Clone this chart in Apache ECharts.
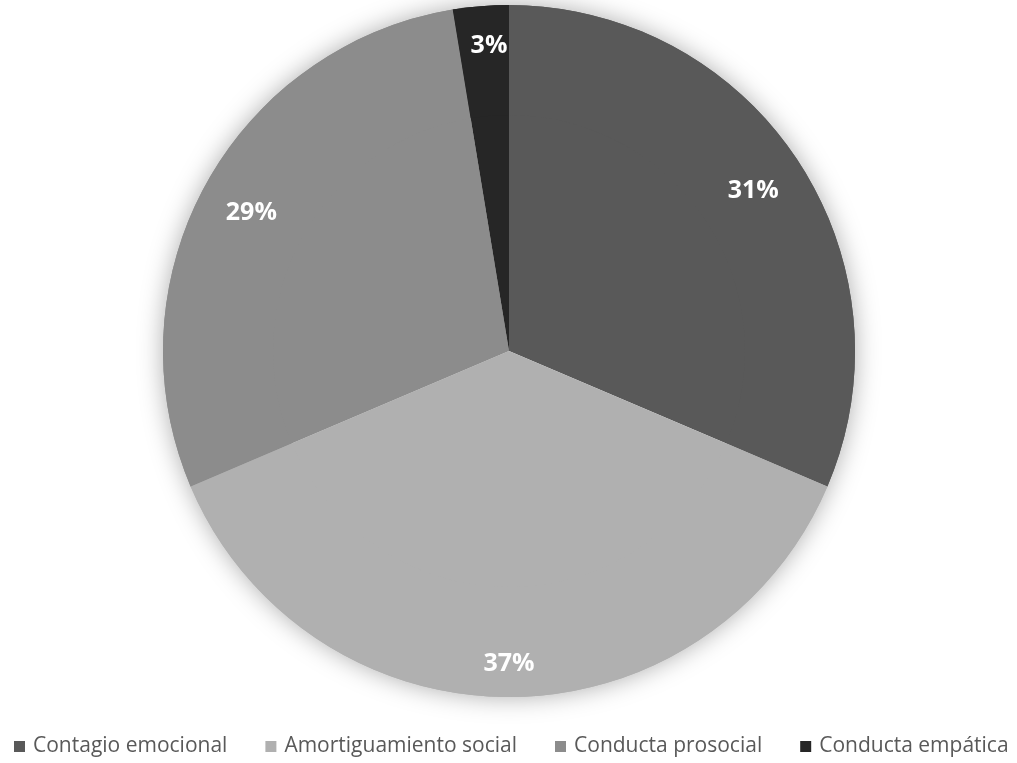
<!DOCTYPE html>
<html><head><meta charset="utf-8">
<style>html,body{margin:0;padding:0;background:#fff}#c{width:1017px;height:763px}</style>
<script src="https://cdn.jsdelivr.net/npm/echarts@6/dist/echarts.min.js"></script>
</head><body><div id="c"></div>
<script>
const categories = ['Contagio emocional', 'Amortiguamiento social', 'Conducta prosocial', 'Conducta empática'];
const values = [31.4, 37.2, 28.8, 2.6];
const colors = ['#595959', '#b0b0b0', '#8c8c8c', '#262626'];
const labelNudge = [[-1, 2], [0, 19], [0, 4], [4, -12]];

const data = categories.map((n, i) => ({ name: n, value: values[i], itemStyle: { color: colors[i] } }));
const ringData = categories.map((n, i) => ({
  name: n, value: values[i], itemStyle: { color: colors[i] },
  label: { offset: labelNudge[i] }
}));
const total = values.reduce((a, b) => a + b, 0);
const chart = echarts.init(document.getElementById('c'));
chart.setOption({
  backgroundColor: '#fff',
  animation: false,
  legend: {
    top: 736, left: 14, right: -40, padding: 0,
    itemWidth: 11, itemHeight: 11, itemGap: 38,
    icon: 'rect',
    textStyle: { fontFamily: 'Open Sans', fontSize: 21, color: '#595959', padding: [0, 0, 0, 3] },
    data: categories
  },
  series: [
    {
      type: 'pie', center: [509, 351], radius: [0, 345], silent: true,
      label: { show: false }, labelLine: { show: false }, legendHoverLink: false,
      itemStyle: { color: '#ffffff', shadowBlur: 26, shadowColor: 'rgba(0,0,0,0.35)' },
      data: [{ name: '_shadow', value: total }]
    },
    {
      type: 'pie', center: [509, 351], radius: [0, 346], startAngle: 90, clockwise: true,
      silent: true, label: { show: false }, labelLine: { show: false },
      data: data
    },
    {
      type: 'pie', center: [509, 351], radius: [236, 346], startAngle: 90, clockwise: true,
      silent: true, legendHoverLink: false,
      label: {
        show: true, position: 'inside', color: '#fff', fontFamily: 'Open Sans', fontWeight: 'bold', fontSize: 25,
        formatter: p => Math.round(p.value) + '%'
      },
      labelLine: { show: false },
      data: ringData
    }
  ]
});
</script></body></html>
